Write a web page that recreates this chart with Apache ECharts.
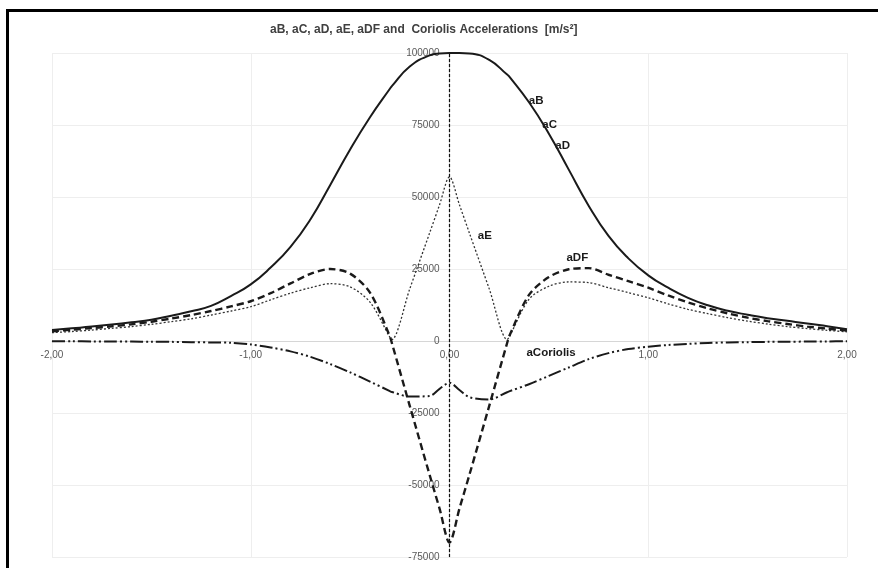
<!DOCTYPE html>
<html>
<head>
<meta charset="utf-8">
<script src="https://cdn.jsdelivr.net/npm/echarts@6/dist/echarts.min.js"></script>
<style>
  html, body { margin: 0; padding: 0; background: #ffffff; }
  #chart { width: 878px; height: 568px; }
</style>
</head>
<body>
<div id="chart"></div>
<script>
// Position parameter (x axis) shared by every curve
const tVals = [-2.0, -1.9, -1.8, -1.7, -1.6, -1.5, -1.4, -1.3, -1.2, -1.1, -1.0,
  -0.9, -0.8, -0.7, -0.6, -0.5, -0.4, -0.3, -0.29, -0.2, -0.1, -0.05, 0,
  0.05, 0.1, 0.2, 0.29, 0.3, 0.4, 0.5, 0.6, 0.7, 0.8, 0.9, 1.0,
  1.1, 1.2, 1.3, 1.4, 1.5, 1.6, 1.7, 1.8, 1.9, 2.0];

// Accelerations in m/s²
const aB = [3800, 4400, 5000, 5700, 6500, 7400, 8800, 10300, 12200, 15600, 19650,
  25500, 32700, 42200, 54200, 66500, 77700, 87600, 88500, 95300, 99200, 99850, 100000,
  100000, 99850, 97600, 92500, 91900, 82900, 72000, 59500, 47000, 36500, 28700, 22800,
  18500, 15000, 12400, 10500, 9100, 7900, 7000, 6100, 5100, 4100];

const aDF = [3400, 3900, 4500, 5100, 5800, 6700, 7800, 9000, 10400, 12000, 13800,
  16600, 20000, 23300, 25000, 23400, 16800, 1600, -700, -22500, -46500, -58200, -70000,
  -58200, -46500, -22500, -700, 1600, 16000, 22200, 24900, 25300, 23000, 20800, 18500,
  15800, 13400, 11300, 9600, 8100, 6900, 5900, 5000, 4300, 3600];

const aE = [2900, 3300, 3800, 4400, 5000, 5800, 6700, 7700, 9000, 10400, 11900,
  14300, 16600, 18500, 19900, 18800, 13500, 1300, 500, 18100, 37500, 47300, 57000,
  47300, 37500, 18100, 500, 1300, 14500, 19000, 20500, 20300, 18500, 16800, 15000,
  12900, 11000, 9500, 8100, 6900, 5900, 5000, 4300, 3700, 3200];

const aCoriolis = [-100, -100, -150, -150, -200, -250, -300, -400, -500, -600, -1200,
  -2250, -3600, -5500, -8000, -10900, -14100, -17400, -17700, -19300, -19100, -16600, -14500,
  -17000, -19500, -20300, -17800, -17500, -15000, -12100, -9200, -6300, -4200, -2800, -2000,
  -1400, -1000, -700, -500, -400, -300, -250, -200, -150, -100];

// Axis ranges and tick steps
const xTicks = [-2, -1, 0, 1, 2];
const yTicks = [-75000, -50000, -25000, 0, 25000, 50000, 75000, 100000];

const pairs = (ys) => tVals.map((t, i) => [t, ys[i]]);

// Plot box in pixels; the axes cross at the origin, so each axis is shifted onto the other's zero
const box = { left: 52, top: 53, width: 795, height: 504 };
const xMin = xTicks[0], xMax = xTicks[xTicks.length - 1];
const yMin = yTicks[0], yMax = yTicks[yTicks.length - 1];
const xZeroShift = box.width * (0 - xMin) / (xMax - xMin);
const yZeroShift = box.height * (0 - yMin) / (yMax - yMin);

const tagFont = {
  fontFamily: 'Liberation Sans, Arial, sans-serif',
  fontWeight: 'bold',
  fontSize: 11.5,
  color: '#1a1a1a'
};
const tag = (name, coord) => ({
  name, coord, symbol: 'circle', symbolSize: 0,
  label: Object.assign({ show: true, position: 'inside', formatter: '{b}' }, tagFont)
});

const chart = echarts.init(document.getElementById('chart'), null, { renderer: 'canvas' });

chart.setOption({
  animation: false,
  backgroundColor: '#ffffff',
  title: {
    text: 'aB, aC, aD, aE, aDF and  Coriolis Accelerations  [m/s²]',
    left: 265,
    top: 19,
    textStyle: {
      fontFamily: 'Liberation Sans, Arial, sans-serif',
      fontWeight: 'bold',
      fontSize: 12,
      color: '#404040'
    }
  },
  grid: {
    left: box.left, top: box.top, width: box.width, height: box.height,
    containLabel: false, outerBoundsMode: 'none'
  },
  xAxis: {
    type: 'value',
    min: xMin,
    max: xMax,
    interval: 1,
    position: 'bottom',
    offset: -yZeroShift,
    axisLine: { show: true, onZero: false, lineStyle: { color: '#d6d6d6', width: 1 } },
    axisTick: { show: false },
    axisLabel: {
      margin: 9,
      color: '#595959',
      fontSize: 10,
      fontFamily: 'Liberation Sans, Arial, sans-serif',
      formatter: (v) => v.toFixed(2).replace('.', ',')
    },
    splitLine: { show: true, lineStyle: { color: '#eeeeee', width: 1 } }
  },
  yAxis: {
    type: 'value',
    min: yMin,
    max: yMax,
    interval: 25000,
    position: 'left',
    offset: -xZeroShift,
    axisLine: { show: true, onZero: false, lineStyle: { color: '#c8c8c8', width: 1 } },
    axisTick: { show: false },
    axisLabel: {
      margin: 10,
      color: '#595959',
      fontSize: 10,
      fontFamily: 'Liberation Sans, Arial, sans-serif',
      formatter: (v) => String(v)
    },
    splitLine: { show: true, lineStyle: { color: '#eeeeee', width: 1 } }
  },
  graphic: [
    { type: 'line', silent: true, shape: { x1: 7.5, y1: 10.5, x2: 878, y2: 10.5 },
      style: { stroke: '#000000', lineWidth: 3 } },
    { type: 'line', silent: true, shape: { x1: 7.5, y1: 9, x2: 7.5, y2: 568 },
      style: { stroke: '#000000', lineWidth: 3 } }
  ],
  series: [
    {
      name: 'aE',
      type: 'line',
      data: pairs(aE),
      symbol: 'none',
      smooth: 0.3,
      lineStyle: { color: '#333333', width: 1.3, type: [2, 2] },
      markPoint: { silent: true, data: [tag('aE', [0.178, 36450])] }
    },
    {
      name: 'aCoriolis',
      type: 'line',
      data: pairs(aCoriolis),
      symbol: 'none',
      smooth: 0.3,
      lineStyle: { color: '#1a1a1a', width: 2, type: [13, 3, 2, 3, 2, 3] },
      markPoint: { silent: true, data: [tag('aCoriolis', [0.511, -4170])] }
    },
    {
      name: 'aDF',
      type: 'line',
      data: pairs(aDF),
      symbol: 'none',
      smooth: 0.3,
      lineStyle: { color: '#1a1a1a', width: 2.4, type: [7, 4] },
      markPoint: { silent: true, data: [tag('aDF', [0.643, 28800])] },
      markLine: {
        silent: true,
        symbol: 'none',
        label: { show: false },
        lineStyle: { color: '#111111', width: 1.2, type: [3, 2] },
        data: [{ xAxis: 0 }]
      }
    },
    {
      name: 'aB',
      type: 'line',
      data: pairs(aB),
      symbol: 'none',
      smooth: 0.5,
      lineStyle: { color: '#1a1a1a', width: 2 },
      markPoint: {
        silent: true,
        data: [
          tag('aB', [0.436, 83430]),
          tag('aC', [0.504, 75000]),
          tag('aD', [0.569, 67700])
        ]
      }
    }
  ]
});
</script>
</body>
</html>
